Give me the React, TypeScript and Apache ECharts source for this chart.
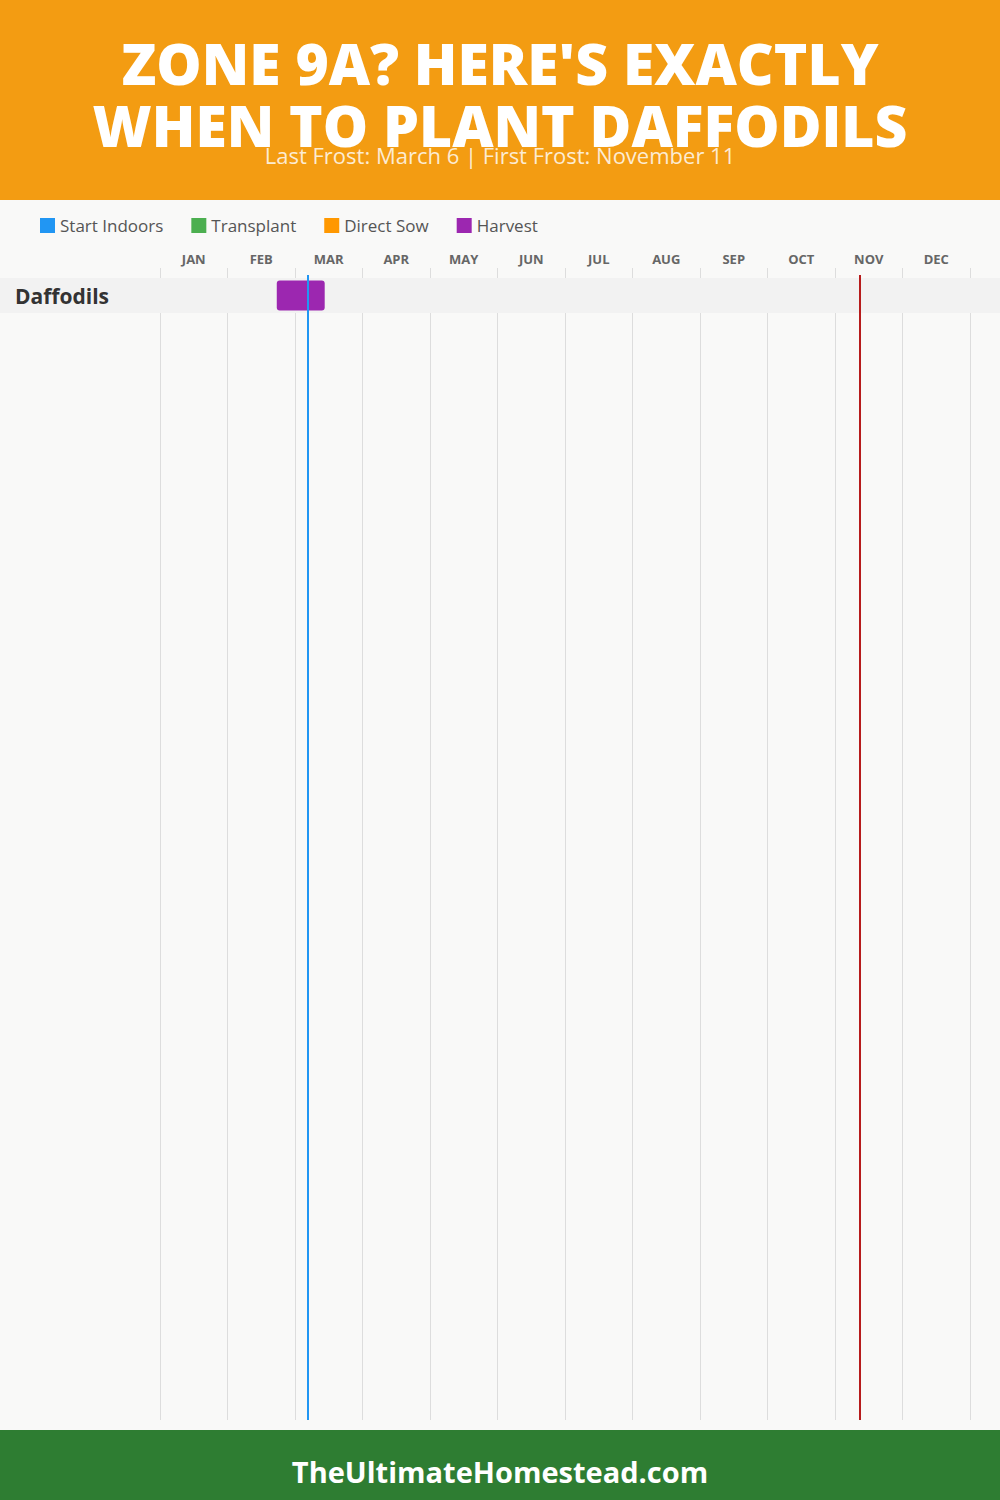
import React, { useEffect, useRef } from "react";
import * as echarts from "echarts";

const titleLines = ["ZONE 9A? HERE'S EXACTLY", "WHEN TO PLANT DAFFODILS"];
const subtitle = "Last Frost: March 6 | First Frost: November 11";
const footerText = "TheUltimateHomestead.com";
const months = ["JAN", "FEB", "MAR", "APR", "MAY", "JUN", "JUL", "AUG", "SEP", "OCT", "NOV", "DEC"];
const crops = ["Daffodils"];
const legendNames = ["Start Indoors", "Transplant", "Direct Sow", "Harvest"];
const legendColors = ["#2196F3", "#4CAF50", "#FF9800", "#9C27B0"];
// positions in month units (0 = Jan 1, 12 = Dec 31)
const harvestStart = [1.73];
const harvestEnd = [2.44];
const lastFrost = 2.19;
const firstFrost = 10.37;

export default function App() {
  const ref = useRef<HTMLDivElement>(null);
  useEffect(() => {
    document.body.style.margin = "0";
    const chart = echarts.init(ref.current!, null, { renderer: "svg" });
    const font = "Open Sans";
    const harvestData = crops.map((c, i) => [i, harvestStart[i], harvestEnd[i]]);
    const rangeSeries = (name: string, color: string, data: any[]) => ({
      type: "custom",
      name,
      xAxisIndex: 1,
      yAxisIndex: 1,
      itemStyle: { color },
      encode: { x: [1, 2], y: 0 },
      data,
      z: 3,
      renderItem: (params: any, api: any) => {
        const s = api.coord([api.value(1), api.value(0)]);
        const e = api.coord([api.value(2), api.value(0)]);
        const h = api.size([0, 1])[1] * 0.86;
        return {
          type: "rect",
          shape: { x: s[0], y: s[1] - h / 2, width: e[0] - s[0], height: h, r: 3 },
          style: { fill: color },
        };
      },
    });
    const titleStyle = (text: string) => ({
      text,
      fill: "#ffffff",
      fontSize: 57,
      fontWeight: 800,
      fontFamily: font,
      align: "center",
      verticalAlign: "middle",
    });
    const option: any = {
      animation: false,
      backgroundColor: "#f9f9f8",
      textStyle: { fontFamily: font },
      legend: {
        left: 40,
        top: 217,
        padding: 0,
        itemWidth: 15,
        itemHeight: 15,
        itemGap: 28,
        icon: "rect",
        data: legendNames,
        textStyle: { color: "#555", fontSize: 17, fontFamily: font },
        selectedMode: false,
      },
      graphic: [
        { type: "rect", z: 10, shape: { x: 0, y: 0, width: 1000, height: 200 }, style: { fill: "#F39C12" } },
        { type: "text", z: 11, x: 500, y: 63, style: titleStyle(titleLines[0]) },
        { type: "text", z: 11, x: 500, y: 125, style: titleStyle(titleLines[1]) },
        {
          type: "text",
          z: 12,
          x: 500,
          y: 155,
          style: {
            text: subtitle,
            fill: "rgba(255,255,255,0.82)",
            fontSize: 22,
            fontWeight: 400,
            fontFamily: font,
            align: "center",
            verticalAlign: "middle",
          },
        },
        { type: "rect", z: 1, shape: { x: 0, y: 278, width: 1000, height: 35 }, style: { fill: "#f2f2f2" } },
        { type: "rect", z: 10, shape: { x: 0, y: 1430, width: 1000, height: 70 }, style: { fill: "#2E7D32" } },
        {
          type: "text",
          z: 11,
          x: 500,
          y: 1471,
          style: {
            text: footerText,
            fill: "#ffffff",
            fontSize: 29,
            fontWeight: 700,
            fontFamily: font,
            align: "center",
            verticalAlign: "middle",
          },
        },
      ],
      grid: [
        { left: 160, right: 30, top: 268, bottom: 80 },
        { left: 160, right: 30, top: 278, height: 35 },
        { left: 160, right: 30, top: 275, bottom: 80 },
      ],
      xAxis: [
        {
          gridIndex: 0,
          type: "category",
          position: "top",
          data: months,
          boundaryGap: true,
          axisLine: { show: false },
          axisTick: { show: false },
          axisLabel: { color: "#666", fontSize: 13, fontWeight: 700, margin: 3, fontFamily: font },
          splitLine: { show: true, lineStyle: { color: "#dddddd", width: 1 } },
        },
        { gridIndex: 1, type: "value", min: 0, max: 12, show: false },
        { gridIndex: 2, type: "value", min: 0, max: 12, show: false },
      ],
      yAxis: [
        { gridIndex: 0, type: "value", show: false },
        {
          gridIndex: 1,
          type: "category",
          data: crops,
          inverse: true,
          z: 6,
          axisLine: { show: false },
          axisTick: { show: false },
          splitLine: { show: false },
          axisLabel: {
            align: "left",
            margin: 145,
            color: "#333",
            fontSize: 21,
            fontWeight: 700,
            fontFamily: font,
          },
        },
        { gridIndex: 2, type: "value", min: 0, max: 1, show: false },
      ],
      series: [
        rangeSeries(legendNames[0], legendColors[0], []),
        rangeSeries(legendNames[1], legendColors[1], []),
        rangeSeries(legendNames[2], legendColors[2], []),
        rangeSeries(legendNames[3], legendColors[3], harvestData),
        {
          type: "scatter",
          name: "frost",
          xAxisIndex: 2,
          yAxisIndex: 2,
          data: [],
          z: 5,
          markLine: {
            silent: true,
            symbol: ["none", "none"],
            label: { show: false },
            z: 5,
            data: [
              { xAxis: lastFrost, lineStyle: { color: "#2196F3", width: 2, type: "solid" } },
              { xAxis: firstFrost, lineStyle: { color: "#B71C1C", width: 2, type: "solid" } },
            ],
          },
        },
      ],
    };
    chart.setOption(option);
    return () => chart.dispose();
  }, []);
  return <div ref={ref} style={{ width: 1000, height: 1500 }} />;
}
